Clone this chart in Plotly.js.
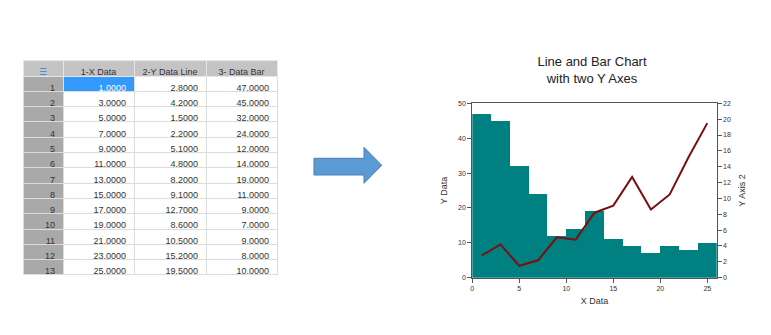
<!DOCTYPE html>
<html>
<head>
<meta charset="utf-8">
<script src="https://cdn.plot.ly/plotly-3.0.1.min.js"></script>
<style>html,body{margin:0;padding:0;background:#fff;}#chart{width:771px;height:335px;}</style>
</head>
<body>
<div id="chart"></div>
<script>
const rowNumbers = [1,2,3,4,5,6,7,8,9,10,11,12,13];
const xData = [1,3,5,7,9,11,13,15,17,19,21,23,25];
const yLine = [2.8,4.2,1.5,2.2,5.1,4.8,8.2,9.1,12.7,8.6,10.5,15.2,19.5];
const yBar = [47,45,32,24,12,14,19,11,9,7,9,8,10];
const headers = ['\u2630','1-X\u00a0Data','2-Y\u00a0Data\u00a0Line','3-\u00a0Data\u00a0Bar'];
const chartTitle = 'Line and Bar Chart<br>with two Y Axes';

const W = 771, H = 335;
const px = v => v / W, py = v => 1 - v / H;

const whiteCol = rowNumbers.map(() => '#ffffff');
const firstCol = rowNumbers.map((_, i) => i === 0 ? '#3399ff' : '#ffffff');
const firstFont = rowNumbers.map((_, i) => i === 0 ? '#ffffff' : '#333333');
const darkFont = rowNumbers.map(() => '#333333');
const idxCol = rowNumbers.map(() => '#a9a9a9');

const table = {
  type: 'table',
  domain: {x: [px(23), px(277)], y: [py(276), py(60)]},
  columnwidth: [40, 71, 72, 71],
  header: {
    values: headers,
    align: 'center',
    height: 16,
    fill: {color: ['#c4c4c4','#c4c4c4','#c4c4c4','#c4c4c4']},
    line: {color: '#e6e6e6', width: 1},
    font: {family: 'Liberation Sans, Arial, sans-serif', size: 9, color: ['#3a7fd8','#333','#333','#333']}
  },
  cells: {
    values: [rowNumbers, xData, yLine, yBar],
    format: ['', '.4f', '.4f', '.4f'],
    align: 'right',
    height: 15.3,
    fill: {color: [idxCol, firstCol, whiteCol, whiteCol]},
    line: {color: '#dcdcdc', width: 1},
    font: {family: 'Liberation Sans, Arial, sans-serif', size: 9, color: [darkFont, firstFont, darkFont, darkFont]}
  }
};

const bars = {
  type: 'bar', x: xData, y: yBar, width: 2,
  marker: {color: '#008080', line: {width: 0}},
  xaxis: 'x', yaxis: 'y'
};
const line = {
  type: 'scatter', mode: 'lines', x: xData, y: yLine,
  line: {color: '#7a0f0f', width: 2},
  xaxis: 'x', yaxis: 'y2'
};

const tickFont = {family: 'Liberation Sans, Arial, sans-serif', size: 7, color: '#333'};
const titleFont = {family: 'Liberation Sans, Arial, sans-serif', size: 9, color: '#333'};

const arrowPath = [
  [314,158.3],[364,158.3],[364,147.3],[381.7,165.3],[364,183.3],[364,175],[314,175]
].map((p, i) => (i === 0 ? 'M' : 'L') + px(p[0]).toFixed(5) + ',' + py(p[1]).toFixed(5)).join(' ') + ' Z';

const layout = {
  width: W, height: H,
  margin: {l: 0, r: 0, t: 0, b: 0},
  paper_bgcolor: '#fff', plot_bgcolor: '#fff',
  showlegend: false,
  title: {text: chartTitle, x: px(592), xanchor: 'center', y: py(66), yref: 'container', yanchor: 'middle',
    font: {family: 'Liberation Sans, Arial, sans-serif', size: 13, color: '#222'}},
  bargap: 0,
  xaxis: {
    domain: [px(472.3), px(716.7)], range: [0, 26], tickvals: [0,5,10,15,20,25],
    showline: true, linecolor: '#555', linewidth: 1, mirror: true,
    ticks: 'outside', ticklen: 4, tickcolor: '#555', showgrid: false, zeroline: false,
    tickfont: tickFont, title: {text: 'X Data', font: titleFont, standoff: 6}, automargin: false
  },
  yaxis: {
    domain: [py(277.7), py(103.3)], range: [0, 50], dtick: 10,
    showline: true, linecolor: '#555', linewidth: 1,
    ticks: 'outside', ticklen: 4, tickcolor: '#555', showgrid: false, zeroline: false,
    tickfont: tickFont, title: {text: 'Y Data', font: titleFont, standoff: 8}, automargin: false
  },
  yaxis2: {
    overlaying: 'y', side: 'right', anchor: 'x', range: [0, 22], dtick: 2,
    showline: true, linecolor: '#555', linewidth: 1,
    ticks: 'outside', ticklen: 4, tickcolor: '#555', showgrid: false, zeroline: false,
    tickfont: tickFont, title: {text: 'Y Axis 2', font: titleFont, standoff: 8}, automargin: false
  },
  shapes: [{
    type: 'path', xref: 'paper', yref: 'paper', path: arrowPath,
    fillcolor: '#5b9bd5', line: {color: '#4a7fb5', width: 1}
  }]
};

Plotly.newPlot('chart', [table, bars, line], layout, {displayModeBar: false, staticPlot: true});
</script>
</body>
</html>
